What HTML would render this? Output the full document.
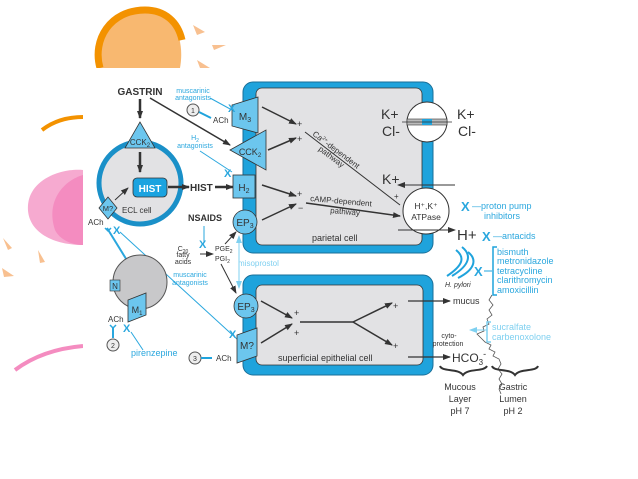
<!DOCTYPE html>
<html><head><style>
html,body{margin:0;padding:0;background:#fff;width:638px;height:479px;overflow:hidden}
svg{display:block}
text{font-family:"Liberation Sans",sans-serif;fill:#333}
.b{fill:#1fa3dc;stroke:#1a6f98;stroke-width:1}
.lb{fill:#2aa7de}
</style></head><body>
<svg width="638" height="479" viewBox="0 0 638 479" xmlns="http://www.w3.org/2000/svg">
<defs>
<marker id="ah" markerWidth="8" markerHeight="8" refX="7" refY="4" orient="auto" markerUnits="userSpaceOnUse"><path d="M0,1 L8,4 L0,7 Z" fill="#333"/></marker>
<marker id="ahb" markerWidth="8" markerHeight="8" refX="7" refY="4" orient="auto" markerUnits="userSpaceOnUse"><path d="M0,1 L8,4 L0,7 Z" fill="#7fd0f0"/></marker>
</defs>
<!-- decorations -->
<path d="M100,68 C92,40 110,10 145,10 C175,12 185,40 180,68 Z" fill="#f8b870"/>
<path d="M100,68 C92,40 110,10 145,10 C165,10 178,22 182,40" fill="none" stroke="#f39200" stroke-width="7"/>
<path d="M193,25 L205,32 L197,35Z M212,45 L226,45 L214,50Z M197,60 L210,68 L200,68Z" fill="#f8c090"/>
<path d="M42,130 C55,120 70,117 83,117" fill="none" stroke="#f39200" stroke-width="4"/>
<path d="M83,170 C60,168 30,180 28,205 C26,230 50,245 83,245 Z" fill="#f6aad0"/>
<path d="M83,175 C65,180 45,200 55,230 C60,240 72,245 83,245Z" fill="#f48cc0"/>
<path d="M15,370 C35,355 60,348 83,346" fill="none" stroke="#f48cc0" stroke-width="4"/>
<path d="M3,238 L12,248 L8,250Z M38,250 L45,262 L40,263Z M2,268 L14,276 L4,277Z" fill="#f8c090"/>
<rect x="83" y="68" width="555" height="411" fill="#fff"/>

<!-- parietal cell -->
<rect x="243" y="82" width="190" height="171" rx="10" class="b"/>
<rect x="256" y="88" width="166" height="157" rx="6" fill="#e2e2e4" stroke="#333" stroke-width="0.8"/>
<!-- superficial cell -->
<rect x="243" y="275" width="190" height="100" rx="10" class="b"/>
<rect x="256" y="285" width="167" height="80" rx="6" fill="#e2e2e4" stroke="#333" stroke-width="0.8"/>

<!-- KCl transporter -->
<circle cx="427" cy="122" r="20" fill="#fff" stroke="#333"/>
<rect x="407" y="119" width="40" height="6" fill="#bbb" stroke="#333" stroke-width="0.6"/>
<rect x="422" y="119" width="10" height="6" fill="#1fa3dc"/>
<line x1="402" y1="122" x2="452" y2="122" stroke="#333" stroke-width="0.8"/>
<text x="381" y="119" font-size="14">K+</text><text x="382" y="136" font-size="14">Cl-</text>
<text x="457" y="119" font-size="14">K+</text><text x="458" y="136" font-size="14">Cl-</text>
<!-- ATPase -->
<circle cx="426" cy="211" r="23" fill="#fff" stroke="#333"/>
<text x="426" y="209" font-size="8.5" text-anchor="middle">H⁺,K⁺</text>
<text x="426" y="220" font-size="8.5" text-anchor="middle">ATPase</text>
<line x1="455" y1="185" x2="398" y2="185" stroke="#333" marker-end="url(#ah)"/>
<text x="382" y="184" font-size="14">K+</text>
<text x="394" y="199" font-size="8">+</text>
<line x1="398" y1="230" x2="455" y2="230" stroke="#333" marker-end="url(#ah)"/>
<text x="457" y="240" font-size="15">H+</text>
<text x="461" y="211" font-size="13" font-weight="bold" class="lb">X</text>
<text x="472" y="209" font-size="9" class="lb">—proton pump</text>
<text x="484" y="219" font-size="9" class="lb">inhibitors</text>
<text x="482" y="241" font-size="13" font-weight="bold" class="lb">X</text>
<text x="493" y="239" font-size="9" class="lb">—antacids</text>

<!-- H pylori -->
<g fill="none" stroke="#1fa3dc" stroke-width="2">
<path d="M462,247 C472,255 470,265 452,276"/>
<path d="M456,250 C466,258 462,266 447,276"/>
<path d="M468,252 C478,260 474,270 458,278"/>
</g>
<text x="445" y="287" font-size="7" font-style="italic">H. pylori</text>
<text x="474" y="276" font-size="13" font-weight="bold" class="lb">X</text>
<line x1="484" y1="271" x2="492" y2="271" stroke="#1fa3dc"/>
<path d="M497,247 L493,247 L493,295 L497,295" fill="none" stroke="#1fa3dc" stroke-width="1.5"/>
<g font-size="9" class="lb"><text x="497" y="255" class="lb">bismuth</text><text x="497" y="264" class="lb">metronidazole</text><text x="497" y="274" class="lb">tetracycline</text><text x="497" y="283" class="lb">clarithromycin</text><text x="497" y="293" class="lb">amoxicillin</text></g>
<path d="M492,295 l-3,5 l4,5 l-4,5 l3,5 l-5,4 l2,5 l-6,3 l1,4 l-7,3 l4,4 l4,4 l6,3 l-2,4 l6,3 l-2,4 l6,3 l2,5 l-3,5 l4,5 l-3,5 l3,5 l-3,5 l2,5" fill="none" stroke="#555" stroke-width="0.8"/>
<path d="M491,322 L487,322 L487,342 L491,342" fill="none" stroke="#7fd0f0" stroke-width="1.5"/>
<line x1="487" y1="330" x2="470" y2="330" stroke="#7fd0f0" marker-end="url(#ahb)"/>
<text x="492" y="330" font-size="9" style="fill:#7fd0f0">sucralfate</text>
<text x="492" y="340" font-size="9" style="fill:#7fd0f0">carbenoxolone</text>
<text x="449" y="338" font-size="7" text-anchor="middle">cyto-</text>
<text x="448" y="346" font-size="7" text-anchor="middle">protection</text>
<line x1="408" y1="301" x2="450" y2="301" stroke="#333" stroke-width="1.2" marker-end="url(#ah)"/>
<text x="453" y="304" font-size="9">mucus</text>
<line x1="408" y1="357" x2="450" y2="357" stroke="#333" stroke-width="1.2" marker-end="url(#ah)"/>
<text x="452" y="362" font-size="12">HCO<tspan font-size="8" dy="3">3</tspan><tspan font-size="9" dy="-8">-</tspan></text>
<path d="M440,366 C442,372 458,368 463,375 C468,368 484,372 487,366" fill="none" stroke="#333" stroke-width="2"/>
<path d="M492,366 C494,372 510,368 515,375 C520,368 536,372 538,366" fill="none" stroke="#333" stroke-width="2"/>
<g font-size="9" text-anchor="middle"><text x="460" y="390">Mucous</text><text x="460" y="402">Layer</text><text x="460" y="414">pH 7</text>
<text x="513" y="390">Gastric</text><text x="513" y="402">Lumen</text><text x="513" y="414">pH 2</text></g>

<!-- GASTRIN & ECL -->
<text x="140" y="95" font-size="10" font-weight="bold" text-anchor="middle">GASTRIN</text>
<line x1="140" y1="99" x2="140" y2="118" stroke="#333" stroke-width="2.5" marker-end="url(#ah)"/>
<line x1="150" y1="98" x2="230" y2="145" stroke="#333" stroke-width="1.5" marker-end="url(#ah)"/>
<circle cx="140" cy="183" r="41" fill="#e2e2e4" stroke="#1a90c8" stroke-width="5"/>
<path d="M140,122 L125,148 L155,148 Z" fill="#6cc6ee" stroke="#333" stroke-width="0.8"/>
<text x="140" y="145" font-size="8" text-anchor="middle">CCK<tspan font-size="6" dy="2">2</tspan></text>
<line x1="140" y1="152" x2="140" y2="172" stroke="#333" stroke-width="2.5" marker-end="url(#ah)"/>
<rect x="133" y="178" width="34" height="19" rx="4" fill="#1aa3e0" stroke="#333" stroke-width="0.8"/>
<text x="150" y="192" font-size="10" font-weight="bold" text-anchor="middle" style="fill:#fff">HIST</text>
<text x="122" y="213" font-size="8">ECL cell</text>
<path d="M108,197 L117,208 L108,219 L99,208 Z" fill="#6cc6ee" stroke="#333" stroke-width="0.8"/>
<text x="108" y="211" font-size="7.5" text-anchor="middle">M?</text>
<line x1="115" y1="200" x2="128" y2="188" stroke="#333" marker-end="url(#ah)"/>
<text x="88" y="225" font-size="8">ACh</text>
<line x1="168" y1="187" x2="189" y2="187" stroke="#333" stroke-width="2.5" marker-end="url(#ah)"/>
<text x="190" y="191" font-size="10" font-weight="bold">HIST</text>
<line x1="215" y1="187" x2="233" y2="187" stroke="#333" stroke-width="2.5" marker-end="url(#ah)"/>

<!-- receptors parietal -->
<path d="M232,105 L258,97 L258,133 L232,126 Z" fill="#6cc6ee" stroke="#333" stroke-width="0.8"/>
<text x="245" y="120" font-size="10" text-anchor="middle">M<tspan font-size="7" dy="2">3</tspan></text>
<path d="M230,150 L266,130 L266,170 Z" fill="#6cc6ee" stroke="#333" stroke-width="0.8"/>
<text x="250" y="155" font-size="9" text-anchor="middle">CCK<tspan font-size="6" dy="2">2</tspan></text>
<rect x="233" y="175" width="22" height="23" fill="#6cc6ee" stroke="#333" stroke-width="0.8"/>
<text x="244" y="191" font-size="10" text-anchor="middle">H<tspan font-size="7" dy="2">2</tspan></text>
<circle cx="245" cy="222" r="12" fill="#6cc6ee" stroke="#333" stroke-width="0.8"/>
<text x="245" y="226" font-size="10" text-anchor="middle">EP<tspan font-size="7" dy="2">3</tspan></text>

<text x="193" y="93" font-size="7" text-anchor="middle" class="lb">muscarinic</text>
<text x="193" y="100" font-size="7" text-anchor="middle" class="lb">antagonists</text>
<line x1="210" y1="98" x2="232" y2="110" stroke="#2aa7de"/>
<text x="228" y="112" font-size="11" font-weight="bold" class="lb">X</text>
<circle cx="193" cy="110" r="6" fill="#eee" stroke="#555"/><text x="193" y="113" font-size="7" text-anchor="middle">1</text>
<line x1="199" y1="112" x2="211" y2="118" stroke="#1fa3dc" stroke-width="2"/>
<text x="213" y="123" font-size="8">ACh</text>
<text x="195" y="140" font-size="7" text-anchor="middle" class="lb">H<tspan font-size="5" dy="2">2</tspan></text>
<text x="195" y="148" font-size="7" text-anchor="middle" class="lb">antagonists</text>
<line x1="200" y1="151" x2="232" y2="172" stroke="#2aa7de"/>
<text x="224" y="177" font-size="11" font-weight="bold" class="lb">X</text>

<!-- parietal internals -->
<line x1="262" y1="107" x2="296" y2="124" stroke="#333" stroke-width="1.5" marker-end="url(#ah)"/>
<line x1="268" y1="150" x2="296" y2="138" stroke="#333" stroke-width="1.5" marker-end="url(#ah)"/>
<text x="297" y="127" font-size="9">+</text><text x="297" y="142" font-size="9">+</text>
<line x1="305" y1="132" x2="400" y2="205" stroke="#333" stroke-width="1"/>
<text font-size="8" transform="translate(312,135) rotate(37)">Ca<tspan font-size="5" dy="-3">2+</tspan><tspan dy="3">-dependent</tspan></text>
<text font-size="8" transform="translate(318,150) rotate(37)">pathway</text>
<line x1="262" y1="185" x2="296" y2="196" stroke="#333" stroke-width="1.5" marker-end="url(#ah)"/>
<line x1="262" y1="220" x2="296" y2="204" stroke="#333" stroke-width="1.5" marker-end="url(#ah)"/>
<text x="297" y="197" font-size="9">+</text><text x="298" y="211" font-size="9">−</text>
<line x1="306" y1="203" x2="400" y2="216" stroke="#333" stroke-width="1.5" marker-end="url(#ah)"/>
<text font-size="8" transform="translate(310,201) rotate(5)">cAMP-dependent</text>
<text font-size="8" transform="translate(330,213) rotate(5)">pathway</text>
<text x="312" y="241" font-size="9">parietal cell</text>

<!-- NSAIDS -->
<text x="205" y="221" font-size="9" font-weight="bold" text-anchor="middle">NSAIDS</text>
<line x1="204" y1="226" x2="204" y2="243" stroke="#2aa7de"/>
<text x="199" y="248" font-size="11" font-weight="bold" class="lb">X</text>
<text x="183" y="251" font-size="7" text-anchor="middle">C<tspan font-size="5" dy="2">20</tspan></text>
<text x="183" y="257" font-size="7" text-anchor="middle">fatty</text>
<text x="183" y="264" font-size="7" text-anchor="middle">acids</text>
<line x1="200" y1="254" x2="213" y2="254" stroke="#333" marker-end="url(#ah)"/>
<text x="215" y="251" font-size="7">PGE<tspan font-size="5" dy="2">2</tspan></text>
<text x="215" y="261" font-size="7">PGI<tspan font-size="5" dy="2">2</tspan></text>
<line x1="225" y1="244" x2="236" y2="232" stroke="#333" marker-end="url(#ah)"/>
<line x1="221" y1="264" x2="236" y2="293" stroke="#333" marker-end="url(#ah)"/>
<line x1="239" y1="238" x2="239" y2="288" stroke="#7fd0f0" marker-end="url(#ahb)"/>
<line x1="239" y1="270" x2="239" y2="236" stroke="#7fd0f0" marker-end="url(#ahb)"/>
<text x="238" y="266" font-size="8" style="fill:#7fd0f0">misoprostol</text>

<!-- neuron -->
<line x1="107" y1="228" x2="128" y2="262" stroke="#2aa7de" stroke-width="2"/>
<path d="M105,228 l3,3 l3,-3" fill="none" stroke="#2aa7de" stroke-width="1.5"/>
<text x="113" y="234" font-size="11" font-weight="bold" class="lb">X</text>
<line x1="120" y1="232" x2="238" y2="340" stroke="#2aa7de"/>
<circle cx="140" cy="282" r="27" fill="#c8c8ca" stroke="#555"/>
<rect x="110" y="280" width="10" height="11" fill="#6cc6ee" stroke="#333" stroke-width="0.6"/>
<text x="115" y="289" font-size="8" text-anchor="middle">N</text>
<path d="M128,300 L146,293 L146,315 L128,322 Z" fill="#6cc6ee" stroke="#333" stroke-width="0.8"/>
<text x="137" y="313" font-size="9" text-anchor="middle">M<tspan font-size="6" dy="2">1</tspan></text>
<text x="108" y="322" font-size="8">ACh</text>
<line x1="113" y1="328" x2="113" y2="338" stroke="#2aa7de" stroke-width="2"/>
<path d="M110,325 l3,3 l3,-3" fill="none" stroke="#2aa7de" stroke-width="1.5"/>
<circle cx="113" cy="345" r="6" fill="#eee" stroke="#555"/><text x="113" y="348" font-size="7" text-anchor="middle">2</text>
<text x="123" y="332" font-size="11" font-weight="bold" class="lb">X</text>
<line x1="131" y1="332" x2="143" y2="350" stroke="#2aa7de"/>
<text x="131" y="356" font-size="9" class="lb">pirenzepine</text>
<text x="190" y="277" font-size="7" text-anchor="middle" class="lb">muscarinic</text>
<text x="190" y="285" font-size="7" text-anchor="middle" class="lb">antagonists</text>
<text x="229" y="338" font-size="11" font-weight="bold" class="lb">X</text>

<!-- lower receptors -->
<circle cx="246" cy="306" r="12" fill="#6cc6ee" stroke="#333" stroke-width="0.8"/>
<text x="246" y="310" font-size="10" text-anchor="middle">EP<tspan font-size="7" dy="2">3</tspan></text>
<path d="M237,335 L257,328 L257,356 L237,363 Z" fill="#6cc6ee" stroke="#333" stroke-width="0.8"/>
<text x="247" y="349" font-size="10" text-anchor="middle">M?</text>
<circle cx="195" cy="358" r="6" fill="#eee" stroke="#555"/><text x="195" y="361" font-size="7" text-anchor="middle">3</text>
<line x1="201" y1="358" x2="212" y2="358" stroke="#1fa3dc" stroke-width="2"/>
<text x="216" y="361" font-size="8">ACh</text>
<line x1="261" y1="301" x2="292" y2="318" stroke="#333" stroke-width="1.5" marker-end="url(#ah)"/>
<line x1="261" y1="343" x2="292" y2="324" stroke="#333" stroke-width="1.5" marker-end="url(#ah)"/>
<text x="294" y="316" font-size="9">+</text><text x="294" y="336" font-size="9">+</text>
<line x1="300" y1="322" x2="353" y2="322" stroke="#333" stroke-width="1.5"/>
<line x1="353" y1="322" x2="392" y2="303" stroke="#333" stroke-width="1.5" marker-end="url(#ah)"/>
<line x1="353" y1="322" x2="392" y2="345" stroke="#333" stroke-width="1.5" marker-end="url(#ah)"/>
<text x="393" y="309" font-size="9">+</text><text x="393" y="349" font-size="9">+</text>
<text x="278" y="361" font-size="9">superficial epithelial cell</text>
</svg>
</body></html>
